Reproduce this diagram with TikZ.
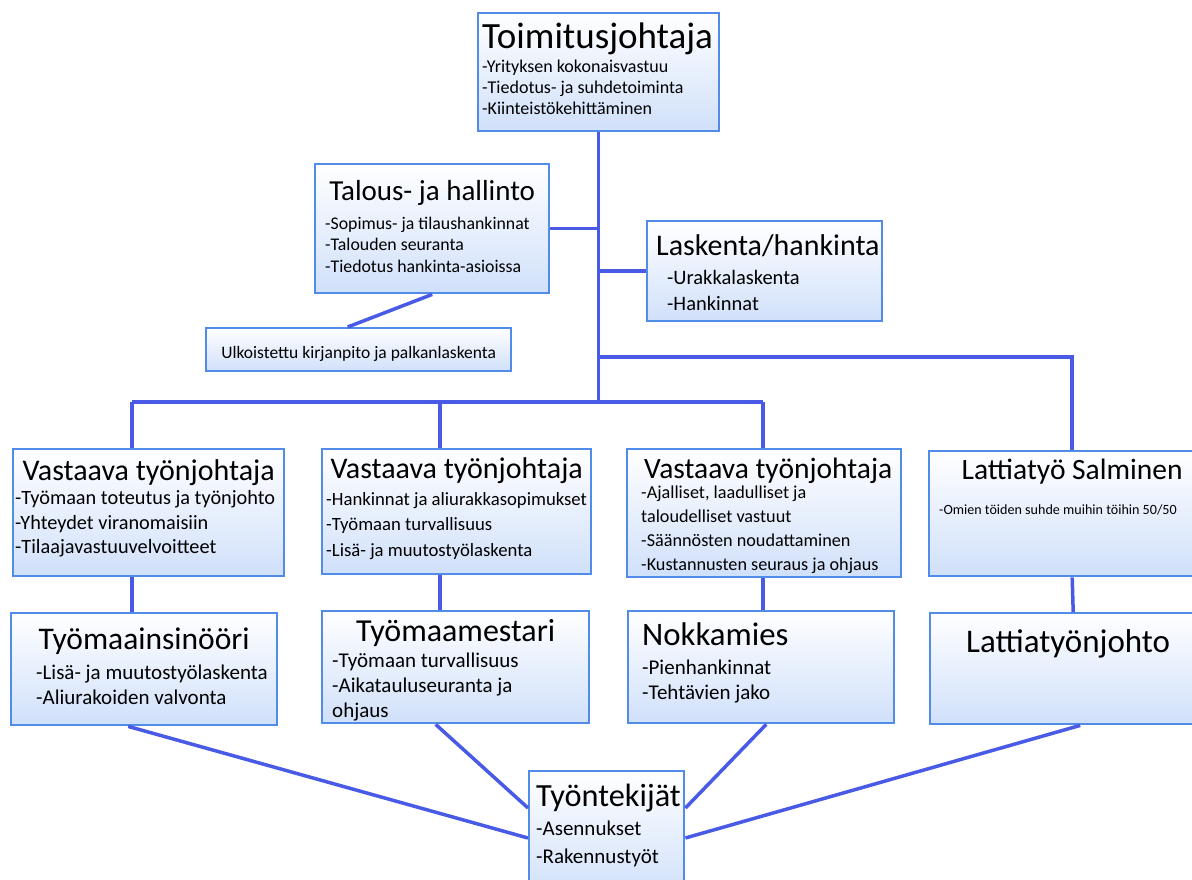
\documentclass[tikz,border=0pt]{standalone}
\usepackage{fontspec}
\setmainfont{Carlito}
\definecolor{boxline}{RGB}{80,140,232}
\definecolor{boxfill}{RGB}{208,224,250}
\definecolor{linkblue}{RGB}{72,90,230}
\tikzset{
  unit/.style={draw=boxline, line width=2.4pt, top color=white, bottom color=boxfill,
    anchor=north west, inner xsep=4pt, inner ysep=3pt},
  link/.style={draw=linkblue, line width=3.5pt}
}
% box of given width and height, text from the top
\newcommand{\unitbox}[3]{\begin{minipage}[t][\dimexpr#2pt-6pt\relax][t]{\dimexpr#1pt-8pt\relax}#3\end{minipage}}
\newcommand{\ttl}[3]{{\fontsize{#1}{#1}\selectfont\rule{0pt}{#2pt}#3\par}}

\begin{document}
\begin{tikzpicture}[x=1pt,y=-1pt]
\useasboundingbox (0,0) rectangle (1192,879);

\node[unit] (ceo) at (477,12) {\unitbox{241}{118}{%
  \ttl{37}{32}{Toimitusjohtaja}\vspace{3pt}
  {\fontsize{18}{21}\selectfont -Yrityksen kokonaisvastuu\\-Tiedotus- ja suhdetoiminta\\-Kiinteistökehittäminen\par}}};

\node[unit] (talous) at (314,163) {\unitbox{234}{129}{%
  {\centering\ttl{29}{33}{Talous- ja hallinto}}\vspace{7.5pt}
  {\leftskip=6pt\fontsize{17.8}{21.5}\selectfont -Sopimus- ja tilaushankinnat\\-Talouden seuranta\\-Tiedotus hankinta-asioissa\par}}};

\node[unit] (laskenta) at (646,220) {\unitbox{235}{100}{%
  {\leftskip=5pt\ttl{30}{31}{Laskenta/hankinta}}\vspace{3pt}
  {\leftskip=16pt\fontsize{20.5}{26}\selectfont -Urakkalaskenta\\-Hankinnat\par}}};

\node[unit] (ulk) at (205,327) {\unitbox{305}{43}{%
  {\centering\fontsize{17.5}{17.5}\selectfont\rule{0pt}{27pt}Ulkoistettu kirjanpito ja palkanlaskenta\par}}};

% second row
\node[unit] (vt1) at (12,448) {\unitbox{271}{127}{%
  {\centering\ttl{30}{28}{Vastaava työnjohtaja}}
  {\leftskip=-2pt\fontsize{20.3}{24.5}\selectfont -Työmaan toteutus ja työnjohto\\-Yhteydet viranomaisiin\\-Tilaajavastuuvelvoitteet\par}}};

\node[unit] (vt2) at (321,448) {\unitbox{269}{125}{%
  {\centering\ttl{30}{26}{Vastaava työnjohtaja}}\vspace{1.5pt}
  {\fontsize{18.7}{25.5}\selectfont -Hankinnat ja aliurakkasopimukset\\-Työmaan turvallisuus\\-Lisä- ja muutostyölaskenta\par}}};

\node[unit] (vt3) at (626,448) {\unitbox{274}{128}{%
  {\leftskip=13pt\ttl{29.5}{26}{Vastaava työnjohtaja}}\vspace{-4pt}
  {\leftskip=10pt\fontsize{18.2}{24}\selectfont -Ajalliset, laadulliset ja\\taloudelliset vastuut\\-Säännösten noudattaminen\\-Kustannusten seuraus ja ohjaus\par}}};

\node[unit] (ls) at (928,450) {\unitbox{286}{125}{%
  {\centering\ttl{29.5}{25}{Lattiatyö Salminen}}\vspace{20pt}
  {\leftskip=6pt\fontsize{14.1}{14}\selectfont -Omien töiden suhde muihin töihin 50/50\par}}};

% third row
\node[unit] (ti) at (10,612) {\unitbox{266}{112}{%
  {\centering\ttl{31.5}{33}{Työmaainsinööri}}\vspace{5pt}
  {\leftskip=21pt\fontsize{21}{25}\selectfont -Lisä- ja muutostyölaskenta\\-Aliurakoiden valvonta\par}}};

\node[unit] (tm) at (321,610) {\unitbox{267}{112}{%
  {\centering\ttl{32}{27}{Työmaamestari}}\vspace{1pt}
  {\leftskip=6pt\fontsize{21}{25}\selectfont -Työmaan turvallisuus\\-Aikatauluseuranta ja\\ohjaus\par}}};

\node[unit] (nk) at (627,610) {\unitbox{266}{112}{%
  {\leftskip=10pt\ttl{32.8}{31}{Nokkamies}}\vspace{4pt}
  {\leftskip=10pt\fontsize{21}{25}\selectfont -Pienhankinnat\\-Tehtävien jako\par}}};

\node[unit] (lj) at (929,612) {\unitbox{286}{111}{%
  {\leftskip=32pt\ttl{33}{36}{Lattiatyönjohto}}}};

\node[unit] (tyo) at (528,770) {\unitbox{155}{125}{%
  {\leftskip=3pt\ttl{32.3}{32}{Työntekijät}}\vspace{1pt}
  {\leftskip=3pt\fontsize{21}{28}\selectfont -Asennukset\\-Rakennustyöt\par}}};

% connectors
\coordinate (c1) at (132,402);
\coordinate (c2) at (440,402);
\coordinate (c3) at (763,402);
\coordinate (c4) at (1071,357);

\draw[link] (ceo.south) -- (ceo.south |- c1);
\draw[link] (talous.east) -- (talous.east -| ceo.south);
\draw[link] (laskenta.west) -- (laskenta.west -| ceo.south);
\draw[link] (ceo.south |- c4) -| (ls.north);
\draw[link] (talous.south) -- ([xshift=-11pt]ulk.north);
\draw[link] (c1) -- (c3);
\draw[link] (c1) -- (c1 |- vt1.north);
\draw[link] (c2) -- (c2 |- vt2.north);
\draw[link] (c3) -- (c3 |- vt3.north);
\draw[link] (vt1.south -| c1) -- (c1 |- ti.north);
\draw[link] (vt2.south -| c2) -- (c2 |- tm.north);
\draw[link] (vt3.south -| c3) -- (c3 |- nk.north);
\draw[link] (ls.south) -- (lj.north);
\draw[link] ([xshift=-16pt]ti.south) -- ([yshift=-68pt]tyo.north west);
\draw[link] ([xshift=-20pt]tm.south) -- ([yshift=-38pt]tyo.north west);
\draw[link] ([xshift=5pt]nk.south) -- ([yshift=-38pt]tyo.north east);
\draw[link] ([xshift=7pt]lj.south) -- ([yshift=-68pt]tyo.north east);
\end{tikzpicture}
\end{document}
